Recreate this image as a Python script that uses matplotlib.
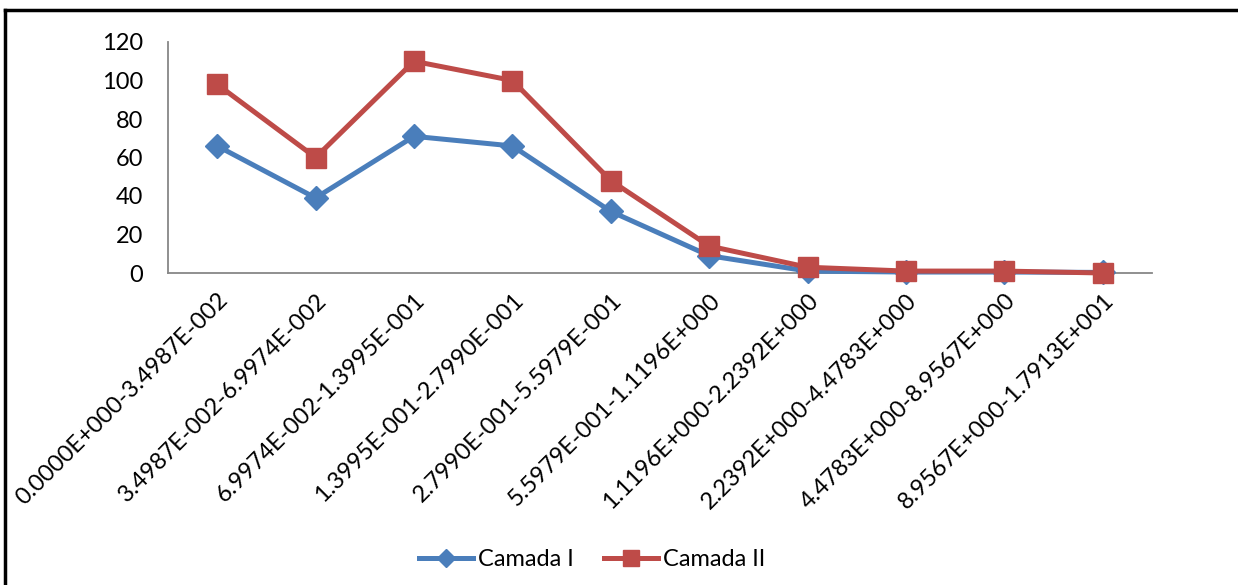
import matplotlib
matplotlib.use("Agg")
import matplotlib.pyplot as plt
from matplotlib.lines import Line2D

categories = [
    "0.0000E+000-3.4987E-002",
    "3.4987E-002-6.9974E-002",
    "6.9974E-002-1.3995E-001",
    "1.3995E-001-2.7990E-001",
    "2.7990E-001-5.5979E-001",
    "5.5979E-001-1.1196E+000",
    "1.1196E+000-2.2392E+000",
    "2.2392E+000-4.4783E+000",
    "4.4783E+000-8.9567E+000",
    "8.9567E+000-1.7913E+001",
]
camada_1 = [66, 39, 71, 66, 32, 9, 1, 0.5, 0.5, 0.3]
camada_2 = [98, 60, 110, 100, 48, 14, 3, 1, 1, 0]
yticks = [0, 20, 40, 60, 80, 100, 120]

plt.rcParams['font.family'] = ['Lato', 'DejaVu Sans']
FS = 17

fig = plt.figure(figsize=(12.38, 5.85), dpi=100)
ax = fig.add_axes([168/1238, 1-273/585, (1152-168)/1238, (273-42)/585])

x = list(range(len(categories)))
blue = "#4A7EBB"
red = "#BE4B48"
ax.plot(x, camada_1, color=blue, lw=3.6, marker="D", ms=12, label="Camada I", zorder=3,
        clip_on=False)
ax.plot(x, camada_2, color=red, lw=3.6, marker="s", ms=14.5, label="Camada II", zorder=4,
        clip_on=False)

ax.set_xlim(-0.5, len(categories) - 0.5)
ax.set_ylim(0, 120)
ax.set_yticks(yticks)
ax.set_yticklabels([str(v) for v in yticks], fontsize=FS)
ax.set_xticks(x)
ax.set_xticklabels(categories, rotation=45, ha="right", va="top",
                   rotation_mode="anchor", fontsize=FS)
ax.tick_params(axis="y", length=0, pad=18)
ax.tick_params(axis="x", length=0, pad=12)

for s in ["top", "right"]:
    ax.spines[s].set_visible(False)
for s in ["left", "bottom"]:
    ax.spines[s].set_color("#878787")
    ax.spines[s].set_linewidth(1.3)

fig.legend(loc="center", bbox_to_anchor=(592/1238, 1-560/585), ncol=2,
           frameon=False, fontsize=FS, handlelength=2.3, columnspacing=1.3,
           handletextpad=0.2, markerscale=0.8)

# outer border (top and left)
fig.add_artist(Line2D([5/1238, 5/1238], [0, 1-10/585], color="black", lw=2.5, transform=fig.transFigure))
fig.add_artist(Line2D([5/1238, 1], [1-10/585, 1-10/585], color="black", lw=2.5, transform=fig.transFigure))

fig.savefig("out.png", dpi=100)
